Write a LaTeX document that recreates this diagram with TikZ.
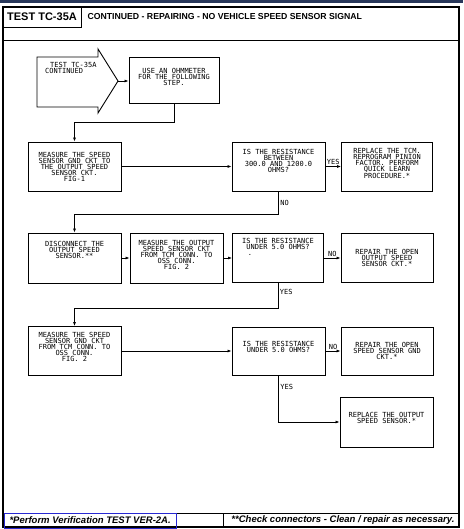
\documentclass[tikz,border=0pt]{standalone}
\usepackage{fontspec}
\setmainfont{Liberation Sans}
\setmonofont{DejaVu Sans Mono}
\usetikzlibrary{arrows.meta, positioning}
\definecolor{navy}{RGB}{40,55,90}
\definecolor{frameblue}{RGB}{40,40,210}

\begin{document}
\begin{tikzpicture}[x=1pt, y=-1pt,
  box/.style={draw, line width=0.9pt, inner sep=0pt, align=center,
    minimum width=93pt, minimum height=49pt,
    font=\ttfamily\fontsize{7}{6}\selectfont},
  flow/.style={-{Latex[length=4pt,width=3pt]}, line width=0.7pt},
  tag/.style={font=\ttfamily\fontsize{7}{6}\selectfont, inner sep=1.5pt}]

\useasboundingbox (0,0) rectangle (463,529);

% Draw the frame
\fill[navy] (0,0) rectangle (463,3);
\draw[line width=1.1pt] (3,7) rectangle (459,527);
\draw[line width=0.9pt] (3,40) -- (459,40);
\draw[line width=0.9pt] (3,513) -- (459,513);
\draw[line width=0.9pt] (223,513) -- (223,527);
\draw[frameblue, line width=0.4pt] (4,513) rectangle (176,528);

\node[draw, line width=0.9pt, minimum width=78pt, minimum height=20pt,
  font=\bfseries\fontsize{11}{12}\selectfont] (title) at (42,17) {TEST TC-35A};
\node[anchor=west, font=\bfseries\fontsize{8.7}{10}\selectfont] (heading) at (84,17)
  {CONTINUED - REPAIRING - NO VEHICLE SPEED SENSOR SIGNAL};

% Draw the entry arrow
\draw[line width=0.9pt] (37,57) -- (98,57) -- (98,49) -- (118,81) -- (98,113)
  -- (98,107) -- (37,107) -- cycle;
\coordinate (tip) at (118,81);
\node[anchor=north west, align=left, inner sep=0pt,
  font=\ttfamily\fontsize{7}{6}\selectfont] (start) at (45,62)
  {\hspace*{5pt}TEST TC-35A\\CONTINUED};

% Draw the boxes
\node[box, minimum width=90pt, minimum height=46pt] (ohm) at (174,80)
  {USE AN OHMMETER\\FOR THE FOLLOWING\\STEP.\\[0pt]\mbox{}};
\node[box] (gndfig1) at (74.5,166.5)
  {MEASURE THE SPEED\\SENSOR GND CKT TO\\THE OUTPUT SPEED\\SENSOR CKT.\\FIG-1};
\node[box] (between) at (278.5,166.5)
  {IS THE RESISTANCE\\BETWEEN\\300.0 AND 1200.0\\OHMS?\\[5pt]\mbox{}};
\node[box, minimum width=91pt] (reprog) at (387,166.5)
  {REPLACE THE TCM.\\REPROGRAM PINION\\FACTOR. PERFORM\\QUICK LEARN\\PROCEDURE.*\\[1pt]\mbox{}};

\node[box, minimum height=50pt] (disc) at (74.5,258)
  {DISCONNECT THE\\OUTPUT SPEED\\SENSOR.**\\[11pt]\mbox{}};
\node[box, minimum height=50pt] (sigckt) at (176.5,258)
  {MEASURE THE OUTPUT\\SPEED SENSOR CKT\\FROM TCM CONN. TO\\OSS CONN.\\FIG. 2\\[1pt]\mbox{}};
\node[box, minimum width=91pt] (underA) at (278,258)
  {IS THE RESISTANCE\\UNDER 5.0 OHMS?\\\hspace*{-56pt}.\\[16pt]\mbox{}};
\node[box, minimum width=92pt] (repsig) at (387,258)
  {REPAIR THE OPEN\\OUTPUT SPEED\\SENSOR CKT.*};

\node[box] (gndfig2) at (74.5,351)
  {MEASURE THE SPEED\\SENSOR GND CKT\\FROM TCM CONN. TO\\OSS CONN.\\FIG. 2\\[2pt]\mbox{}};
\node[box, minimum height=48pt] (underB) at (278.5,351)
  {IS THE RESISTANCE\\UNDER 5.0 OHMS?\\[3pt]\mbox{}};
\node[box, minimum width=92pt, minimum height=48pt] (repgnd) at (387,351)
  {REPAIR THE OPEN\\SPEED SENSOR GND\\CKT.*};
\node[box, minimum height=50pt] (replace) at (386.5,422)
  {REPLACE THE OUTPUT\\SPEED SENSOR.*\\[2pt]\mbox{}};

% Draw the connectors
\draw[flow] (tip) -- (tip -| ohm.west);
\draw[flow] (ohm.south) -- ++(0,19) -| (gndfig1.north);
\draw[flow] (gndfig1) -- (between);
\draw[flow] (between) -- node[tag, above] {YES} (reprog);
\draw[flow] (between.south) -- ++(0,23) node[tag, right, midway] {NO} -| (disc.north);

\draw[flow] (disc) -- (sigckt);
\draw[flow] (sigckt) -- (underA);
\draw[flow] (underA) -- node[tag, above] {NO} (repsig);
\draw[flow] (underA.south) -- ++(0,25) node[tag, right, pos=0.35] {YES} -| (gndfig2.north);

\draw[flow] (gndfig2) -- (underB);
\draw[flow] (underB) -- node[tag, above] {NO} (repgnd);
\draw[flow] (underB.south) |- node[tag, right, pos=0.12] {YES} (replace.west);

% Footer notes
\node[anchor=west, font=\bfseries\itshape\fontsize{9.5}{11}\selectfont] (note1) at (6,520.5)
  {*Perform Verification TEST VER-2A.};
\node[anchor=east, font=\bfseries\itshape\fontsize{9.5}{11}\selectfont] (note2) at (458,520.5)
  {**Check connectors - Clean / repair as necessary.};

\end{tikzpicture}
\end{document}
